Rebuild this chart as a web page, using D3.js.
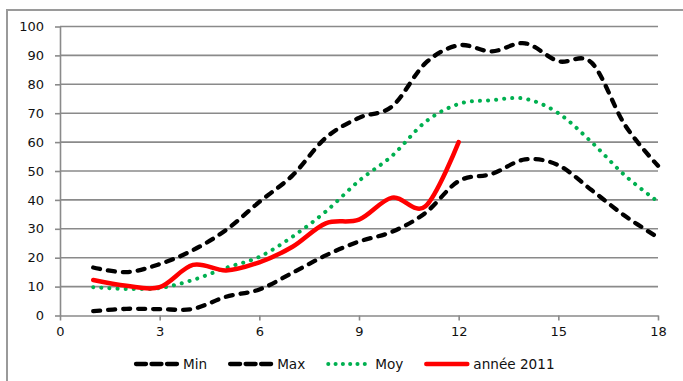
<!DOCTYPE html>
<html><head><meta charset="utf-8">
<script src="https://cdn.jsdelivr.net/npm/d3@7"></script>
<style>
html,body{margin:0;padding:0;background:#fff;}
svg{display:block;}
text{font-family:"DejaVu Sans",sans-serif;font-size:13px;fill:#111;}
</style></head>
<body>
<svg id="c" width="683" height="381"></svg>
<script>
const xValues = [1,2,3,4,5,6,7,8,9,10,11,12,13,14,15,16,17,18];
const minVals = [1.5, 2.3, 2.2, 2.3, 6.5, 9, 14.8, 20.8, 25.6, 29, 35.5, 46.5, 49, 54, 52, 43.4, 34.5, 27];
const maxVals = [16.6, 15, 17.8, 22.6, 29.6, 39.3, 48.5, 61.5, 68.4, 72.4, 87.3, 93.5, 91.4, 94.2, 88, 87.5, 66, 51.8];
const moyVals = [9.8, 9.2, 9.5, 12.3, 16.5, 20.3, 27.3, 36, 46.6, 55.3, 67, 73.2, 74.5, 75, 70, 60, 48.5, 39.4];
const anneeVals = [12.3, 10.3, 9.8, 17.5, 15.6, 18.4, 23.8, 31.9, 33.2, 40.8, 37.8, 60];
const xTicks = [0,3,6,9,12,15,18];
const yTicks = [0,10,20,30,40,50,60,70,80,90,100];
const seriesNames = ["Min","Max","Moy","année 2011"];

const svg = d3.select("#c");
const x = d3.scaleLinear().domain([0,18]).range([60,658]);
const y = d3.scaleLinear().domain([0,100]).range([315.5,26.5]);
const grey = "#8a8a8a";

// chart border
svg.append("rect").attr("x",7).attr("y",10).attr("width",700).attr("height",400)
  .attr("fill","none").attr("stroke","#9a9a9a").attr("stroke-width",2);

// gridlines
svg.append("g").selectAll("line").data(yTicks.filter(d=>d>0)).join("line")
  .attr("x1",x(0)).attr("x2",x(18)).attr("y1",d=>y(d)).attr("y2",d=>y(d))
  .attr("stroke",grey).attr("stroke-width",1.6);

// axes
const xAxis = svg.append("g").attr("transform",`translate(0,${y(0)})`)
  .call(d3.axisBottom(x).tickValues(xTicks).tickSize(5).tickSizeOuter(0).tickFormat(d3.format("d")));
const yAxis = svg.append("g").attr("transform",`translate(${x(0)},0)`)
  .call(d3.axisLeft(y).tickValues(yTicks).tickSize(5).tickSizeOuter(0).tickFormat(d3.format("d")));
[xAxis,yAxis].forEach(a=>{
  a.select(".domain").attr("stroke",grey).attr("stroke-width",1.6);
  a.selectAll(".tick line").attr("stroke",grey).attr("stroke-width",1.6);
  a.selectAll("text").style("font-family","DejaVu Sans").style("font-size","13px").attr("fill","#111");
});
xAxis.selectAll("text").attr("dy","0.71em").attr("y",11);
yAxis.selectAll("text").attr("x",-16);

const line = d3.line().x((d,i)=>x(xValues[i])).y(d=>y(d)).curve(d3.curveCardinal.tension(0));

const styles = [
  {vals:minVals, stroke:"#000", w:4.3, dash:"7,8", ldash:"10,5.5", cap:"round"},
  {vals:maxVals, stroke:"#000", w:4.3, dash:"7,8", ldash:"10,5.5", cap:"round"},
  {vals:moyVals, stroke:"#00b050", w:4, dash:"0.1,8", ldash:"0.1,7.2", cap:"round"},
  {vals:anneeVals, stroke:"#ff0000", w:4.5, dash:null, ldash:null, cap:"round"}
];
styles.forEach(s=>{
  svg.append("path").attr("d",line(s.vals)).attr("fill","none")
    .attr("stroke",s.stroke).attr("stroke-width",s.w)
    .attr("stroke-dasharray",s.dash).attr("stroke-linecap",s.cap).attr("stroke-linejoin","round");
});

// legend
let lx = 134;
const ly = 364;
seriesNames.forEach((name,i)=>{
  const s = styles[i];
  svg.append("line").attr("x1",lx+2).attr("x2",lx+43).attr("y1",ly).attr("y2",ly)
    .attr("stroke",s.stroke).attr("stroke-width",s.w)
    .attr("stroke-dasharray",s.ldash).attr("stroke-linecap",s.cap);
  const t = svg.append("text").attr("x",lx+49).attr("y",ly).attr("dy","0.35em")
    .style("font-size","13.6px").text(name);
  lx = lx + 49 + t.node().getComputedTextLength() + 21;
});
</script>
</body></html>
